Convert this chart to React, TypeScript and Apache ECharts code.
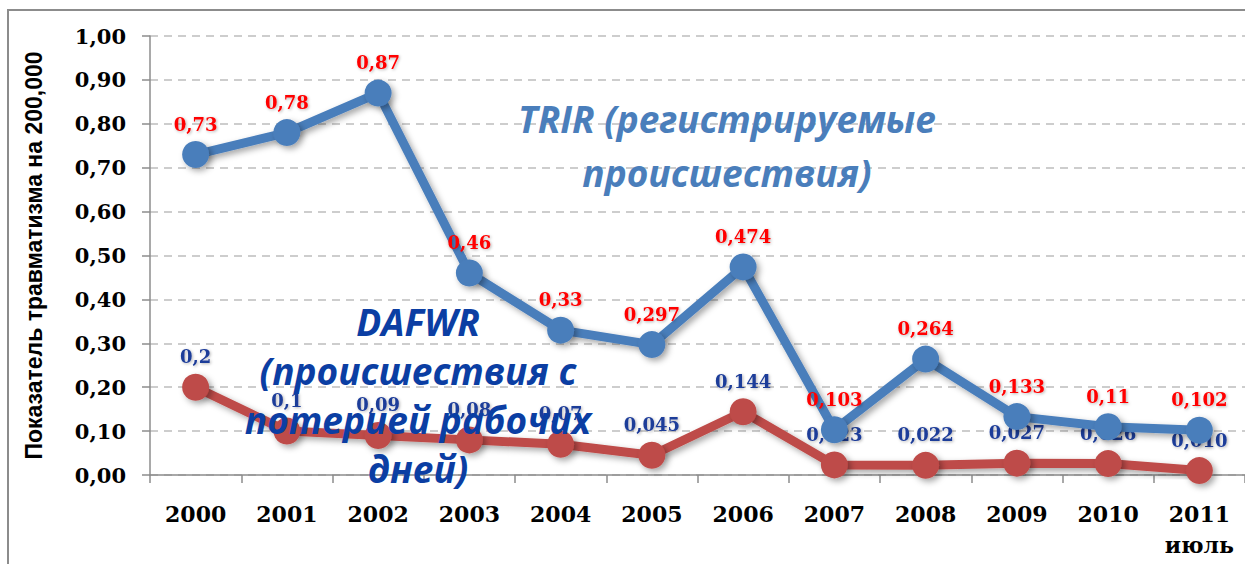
import React, { useEffect, useRef } from "react";
import * as echarts from "echarts";

const categories = ["2000", "2001", "2002", "2003", "2004", "2005", "2006", "2007", "2008", "2009", "2010", "2011\nиюль"];
const trirValues = [0.73, 0.78, 0.87, 0.46, 0.33, 0.297, 0.474, 0.103, 0.264, 0.133, 0.11, 0.102];
const trirLabels = ["0,73", "0,78", "0,87", "0,46", "0,33", "0,297", "0,474", "0,103", "0,264", "0,133", "0,11", "0,102"];
const dafwrValues = [0.2, 0.1, 0.09, 0.08, 0.07, 0.045, 0.144, 0.023, 0.022, 0.027, 0.026, 0.01];
const dafwrLabels = ["0,2", "0,1", "0,09", "0,08", "0,07", "0,045", "0,144", "0,023", "0,022", "0,027", "0,026", "0,010"];
const yAxisTitle = "Показатель травматизма на 200,000";
const trirNote = "TRIR (регистрируемые\nпроисшествия)";
const dafwrNote = "DAFWR\n(происшествия с\nпотерией рабочих\nдней)";

const serif = '"DejaVu Serif"';

export default function App() {
  const ref = useRef<HTMLDivElement>(null);
  useEffect(() => {
    const chart = echarts.init(ref.current!, null, { renderer: "svg" });
    const shadow = {
      shadowColor: "rgba(0,0,0,0.35)",
      shadowBlur: 6,
      shadowOffsetX: 3,
      shadowOffsetY: 3,
    };
    chart.setOption({
      animation: false,
      backgroundColor: "#ffffff",
      grid: { left: 150, top: 36, bottom: 89, right: -10, containLabel: false },
      xAxis: {
        type: "category",
        data: categories,
        boundaryGap: true,
        axisLine: { show: true, lineStyle: { color: "#8c8c8c", width: 1.5 } },
        axisTick: { show: true, length: 8, lineStyle: { color: "#8c8c8c", width: 1.5 } },
        axisLabel: {
          color: "#000",
          fontFamily: serif,
          fontWeight: "bold",
          fontSize: 22,
          margin: 23,
          lineHeight: 31,
        },
      },
      yAxis: {
        type: "value",
        min: 0,
        max: 1,
        interval: 0.1,
        name: yAxisTitle,
        nameLocation: "middle",
        nameGap: 105,
        nameRotate: 90,
        nameTextStyle: {
          fontFamily: '"Liberation Sans"',
          fontWeight: "bold",
          fontSize: 23,
          color: "#000",
        },
        axisLine: { show: true, lineStyle: { color: "#8c8c8c", width: 1.5 } },
        axisTick: { show: true, length: 8, lineStyle: { color: "#8c8c8c", width: 1.5 } },
        axisLabel: {
          color: "#000",
          fontFamily: serif,
          fontWeight: "bold",
          fontSize: 21,
          margin: 24,
          formatter: (v: number) => v.toFixed(2).replace(".", ","),
        },
        splitLine: {
          show: true,
          lineStyle: { color: "#bdbdbd", width: 1.5, type: [8, 6] },
        },
      },
      series: [
        {
          name: "DAFWR",
          type: "line",
          z: 2,
          data: dafwrValues,
          symbol: "circle",
          symbolSize: 27,
          lineStyle: { color: "#be4b48", width: 9, ...shadow },
          itemStyle: { color: "#be4b48", ...shadow },
          label: {
            show: true,
            position: "top",
            distance: 8,
            color: "#1f3d99",
            fontFamily: serif,
            fontWeight: "bold",
            fontSize: 18,
            formatter: (p: any) => dafwrLabels[p.dataIndex],
            textShadowColor: "rgba(0,0,0,0.3)",
            textShadowBlur: 3,
            textShadowOffsetX: 1,
            textShadowOffsetY: 1,
          },
        },
        {
          name: "TRIR",
          type: "line",
          z: 3,
          data: trirValues,
          symbol: "circle",
          symbolSize: 27,
          lineStyle: { color: "#4a7ebb", width: 9, ...shadow },
          itemStyle: { color: "#4a7ebb", ...shadow },
          label: {
            show: true,
            position: "top",
            distance: 8,
            color: "#ff0000",
            fontFamily: serif,
            fontWeight: "bold",
            fontSize: 18,
            formatter: (p: any) => trirLabels[p.dataIndex],
            textShadowColor: "rgba(0,0,0,0.3)",
            textShadowBlur: 3,
            textShadowOffsetX: 1,
            textShadowOffsetY: 1,
          },
        },
      ],
      graphic: [
        {
          type: "rect",
          z: 0,
          silent: true,
          shape: { x: 8, y: 10, width: 1400, height: 700 },
          style: { fill: "none", stroke: "#8c8c8c", lineWidth: 2 },
        },
        {
          type: "text",
          z: 100,
          x: 727,
          y: 145,
          style: {
            text: trirNote,
            font: 'italic bold 37px "Open Sans"',
            fill: "#4a7ebb",
            textAlign: "center",
            textVerticalAlign: "middle",
            lineHeight: 54,
            shadowColor: "rgba(0,0,0,0.45)",
            shadowBlur: 5,
            shadowOffsetX: 3,
            shadowOffsetY: 3,
          },
        },
        {
          type: "text",
          z: 100,
          x: 418,
          y: 395,
          style: {
            text: dafwrNote,
            font: 'italic bold 37px "Open Sans"',
            fill: "#0b3ea3",
            textAlign: "center",
            textVerticalAlign: "middle",
            lineHeight: 49,
            shadowColor: "rgba(0,0,0,0.45)",
            shadowBlur: 5,
            shadowOffsetX: 3,
            shadowOffsetY: 3,
          },
        },
      ],
    });
    return () => chart.dispose();
  }, []);
  return (
    <div
      ref={ref}
      style={{ position: "absolute", left: 0, top: 0, width: 1245, height: 564 }}
    />
  );
}
